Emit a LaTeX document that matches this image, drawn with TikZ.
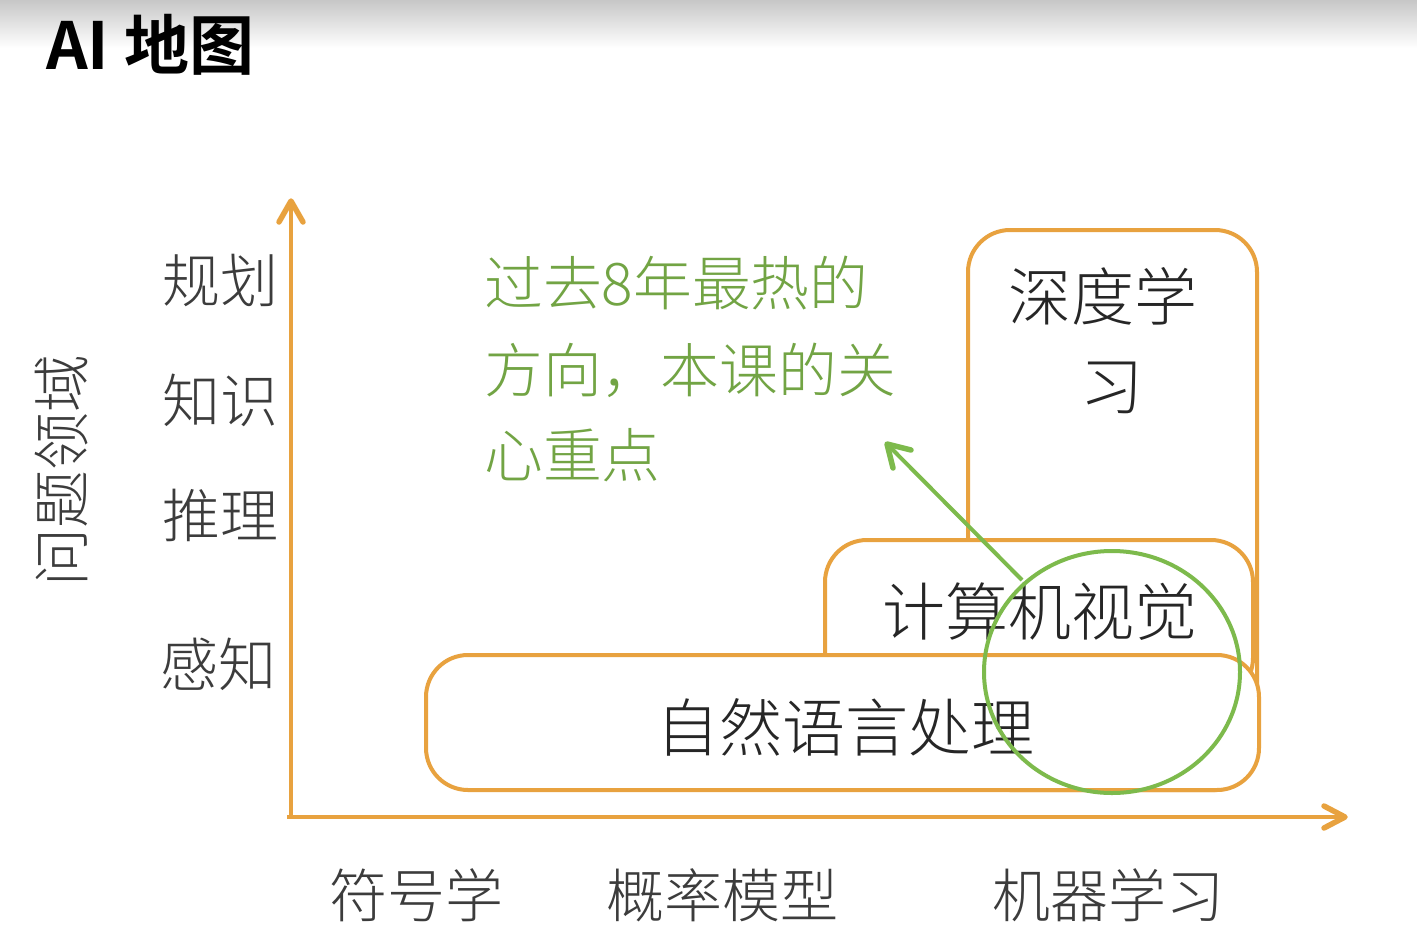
\documentclass[tikz,border=0pt]{standalone}
\usepackage{fontspec}
\newfontfamily\cjk{Noto Sans CJK SC}[UprightFont=* Light, BoldFont=* Bold]
\newfontfamily\cjkbold{Noto Sans CJK SC Bold}
\definecolor{orng}{HTML}{E8A23F}
\definecolor{grn}{HTML}{7DBA4C}
\definecolor{gtxt}{HTML}{72A444}
\definecolor{lbl}{HTML}{3C3C3C}
\begin{document}
\begin{tikzpicture}[x=1pt,y=-1pt,
  ax/.style={draw=orng,line width=4pt},
  tipo/.style={draw=orng,line width=5.5pt,line join=round,line cap=round},
  box/.style={draw=orng,line width=4pt,rounded corners=42pt},
  ring/.style={draw=grn,line width=4pt},
  garrow/.style={draw=grn,line width=4pt},
  tipg/.style={draw=grn,line width=5.5pt,line join=round,line cap=round},
  lab/.style={inner sep=0pt,text=lbl,font=\cjk\fontsize{58}{60}\selectfont},
  gt/.style={inner sep=0pt,anchor=west,text=gtxt,font=\cjk\fontsize{58.8}{60}\selectfont},
  boxtxt/.style={inner sep=0pt,text=black!85,font=\cjk\fontsize{63}{66}\selectfont}]
\useasboundingbox (0,0) rectangle (1417,951);
\fill[white] (0,0) rectangle (1417,951);
\shade[top color=black!22,bottom color=white] (0,0) rectangle (1417,48);
% title
\node[inner sep=0pt,anchor=west,font=\cjkbold\fontsize{65}{66}\selectfont] (title) at (46,45) {AI 地图};
% axes
\coordinate (o) at (291,817);
\coordinate (ytop) at (291,201);
\coordinate (xend) at (1345,817);
\coordinate (xstart) at (287,817);
\draw[ax] (o) -- (ytop);
\draw[ax] (xstart) -- (xend);
\draw[tipo] ([shift={(-12,21)}]ytop) -- (ytop) -- ([shift={(12,21)}]ytop);
\draw[tipo] ([shift={(-21,-11)}]xend) -- (xend) -- ([shift={(-21,11)}]xend);
% boxes
\draw[box,fill=white] (968,230) rectangle (1257,790);
\draw[box,fill=white] (825,540) rectangle (1253,700);
\draw[box,fill=white] (426,655) rectangle (1259,790);
\node[boxtxt] (dl1) at (1103,296) {深度学};
\node[boxtxt] (dl2) at (1112,388) {习};
\node[boxtxt] (cv) at (1040,612) {计算机视觉};
\node[boxtxt] (nlp) at (845,727) {自然语言处理};
% green circle and arrow
\draw[ring] (1112,672) ellipse [x radius=128, y radius=121];
\coordinate (gfrom) at (1022,580);
\coordinate (gto) at (887,444);
\draw[garrow] (gfrom) -- (gto);
\draw[tipg] ([shift={(24,6)}]gto) -- (gto) -- ([shift={(6,24)}]gto);
\node[gt] (g1) at (484,283) {过去8年最热的};
\node[gt] (g2) at (484,370) {方向，本课的关};
\node[gt] (g3) at (484,455) {心重点};
% y labels
\node[lab] (y1) at (220,280) {规划};
\node[lab] (y2) at (220,400) {知识};
\node[lab] (y3) at (220,515) {推理};
\node[lab] (y4) at (218,664) {感知};
\node[lab,rotate=90] (ylab) at (62,470) {问题领域};
% x labels
\node[lab] (x1) at (416,895) {符号学};
\node[lab] (x2) at (722,895) {概率模型};
\node[lab] (x3) at (1108,895) {机器学习};
\end{tikzpicture}
\end{document}
